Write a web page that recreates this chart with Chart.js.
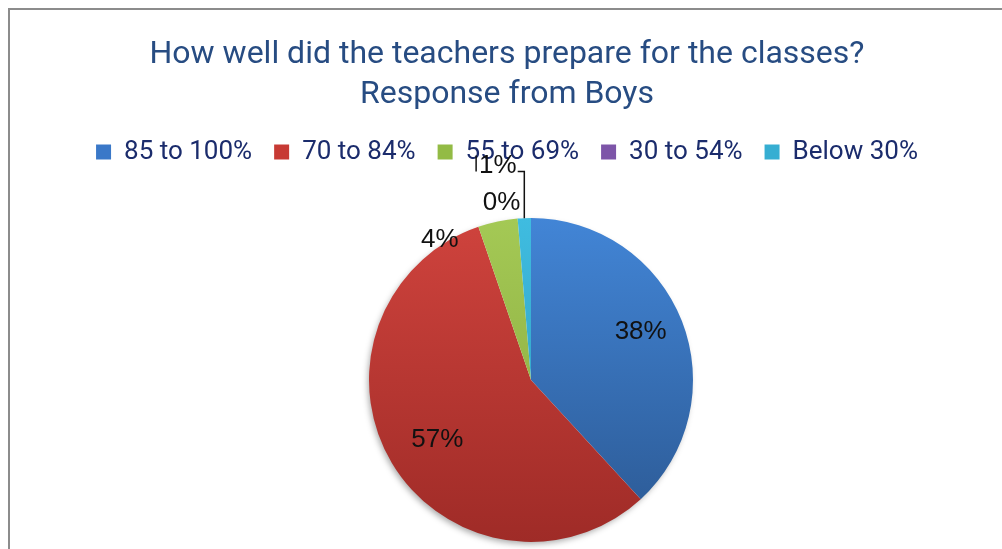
<!DOCTYPE html>
<html>
<head>
<meta charset="utf-8">
<title>Response from Boys</title>
<script src="https://cdn.jsdelivr.net/npm/chart.js@4.4.0/dist/chart.umd.min.js"></script>
<style>
html, body { margin: 0; padding: 0; background: #fff; overflow: hidden; }
#wrap { position: relative; width: 1002px; height: 549px; }
#frame { position: absolute; left: 8px; top: 8px; right: -10px; bottom: -10px;
         border-left: 2px solid #8c8c8c; border-top: 2px solid #8c8c8c; }
canvas { position: absolute; left: 0; top: 0; }
</style>
</head>
<body>
<div id="wrap">
  <div id="frame"></div>
  <canvas id="chartBoys" width="1002" height="549"></canvas>
</div>
<script>
// ── Datos ────────────────────────────────────────────────────────────────────
var categories   = ['85 to 100%', '70 to 84%', '55 to 69%', '30 to 54%', 'Below 30%'];
var responses    = [29, 43, 3, 0, 1];
var titleLines   = ['How well did the teachers prepare for the classes?', 'Response from Boys'];

var colorTop     = ['#4285d6', '#cf433d', '#a4c955', '#8a5fb4', '#3fbce0'];
var colorBottom  = ['#2b5892', '#9f2b27', '#86a53b', '#6b4a91', '#2b98b8'];
var legendColors = ['#3a78c8', '#c73a34', '#93bb45', '#7d55a8', '#36aed2'];

// posición de etiquetas: factor de radio y desplazamiento angular (grados)
var labelPlace = [
    { r: 0.74, da: -2.5 },
    { r: 0.685, da: -1.6 },
    { r: 1.03, da: -21.3 },
    { r: 1.11, da: -4.7 },
    { r: 1.34, da: -6.4 }
];
var pieShift = 24;

function sliceGradient(c) {
    var i = c.dataIndex;
    var area = c.chart.chartArea;
    if (!area) return colorTop[i];
    var g = c.chart.ctx.createLinearGradient(0, area.top, 0, area.bottom);
    g.addColorStop(0, colorTop[i]);
    g.addColorStop(1, colorBottom[i]);
    return g;
}

// ── Espacio debajo de la leyenda ─────────────────────────────────────────────
var legendGap = {
    id: 'legendGap',
    beforeInit: function (chart) {
        var fit = chart.legend.fit;
        chart.legend.fit = function () {
            fit.bind(chart.legend)();
            this.height += 43;
        };
    }
};

// ── Pastel desplazado, sombra y etiquetas ────────────────────────────────────
var piePlugin = {
    id: 'piePlugin',
    beforeDatasetsDraw: function (chart) {
        var ctx = chart.ctx;
        var arc = chart.getDatasetMeta(0).data[0];
        ctx.save();
        ctx.translate(pieShift, 0);
        ctx.save();
        ctx.shadowColor = 'rgba(0,0,0,0.35)';
        ctx.shadowBlur = 6;
        ctx.shadowOffsetX = -2;
        ctx.shadowOffsetY = 3;
        ctx.beginPath();
        ctx.arc(arc.x, arc.y, arc.outerRadius - 1, 0, Math.PI * 2);
        ctx.fillStyle = '#fff';
        ctx.fill();
        ctx.restore();
    },
    afterDatasetsDraw: function (chart) {
        var ctx = chart.ctx;
        var arcs = chart.getDatasetMeta(0).data;
        var total = responses.reduce(function (a, b) { return a + b; }, 0);
        ctx.font = '26px "Liberation Sans", Arial, sans-serif';
        ctx.fillStyle = '#111';
        ctx.strokeStyle = '#111';
        ctx.lineWidth = 1.5;
        ctx.textAlign = 'center';
        ctx.textBaseline = 'middle';
        arcs.forEach(function (a, i) {
            var p = labelPlace[i];
            var mid = (a.startAngle + a.endAngle) / 2;
            var ang = mid + p.da * Math.PI / 180;
            var x = a.x + Math.cos(ang) * a.outerRadius * p.r;
            var y = a.y + Math.sin(ang) * a.outerRadius * p.r;
            var txt = Math.round(responses[i] / total * 100) + '%';
            ctx.fillText(txt, x, y);
            if (p.r > 1.2) {
                // línea guía hasta el borde de la porción
                var w = ctx.measureText(txt).width;
                var ex = a.x + Math.cos(mid) * a.outerRadius;
                var ey = a.y + Math.sin(mid) * a.outerRadius;
                ctx.beginPath();
                ctx.moveTo(x + w / 2 + 1, y + 6);
                ctx.lineTo(ex, y + 6);
                ctx.lineTo(ex, ey);
                ctx.stroke();
                ctx.beginPath();
                ctx.moveTo(x - w / 2 - 3, y - 10);
                ctx.lineTo(x - w / 2 - 3, y + 6);
                ctx.stroke();
            }
        });
        ctx.restore();
    }
};

// ── Gráfica ──────────────────────────────────────────────────────────────────
var chartBoys = new Chart(document.getElementById('chartBoys'), {
    type: 'pie',
    data: {
        labels: categories,
        datasets: [{
            data: responses,
            backgroundColor: sliceGradient,
            borderWidth: 0
        }]
    },
    options: {
        responsive: false,
        animation: false,
        events: [],
        layout: { padding: { left: 12, right: 0, top: 0, bottom: 7 } },
        plugins: {
            tooltip: { enabled: false },
            title: {
                display: true,
                text: titleLines,
                color: '#274c82',
                font: { family: 'Roboto', size: 32, weight: 'normal', lineHeight: 1.25 },
                padding: { top: 35, bottom: 2 }
            },
            legend: {
                position: 'top',
                labels: {
                    boxWidth: 15,
                    boxHeight: 15,
                    padding: 22,
                    color: '#1b2c6c',
                    font: { family: 'Roboto', size: 26 },
                    generateLabels: function () {
                        return categories.map(function (c, i) {
                            return {
                                text: c, fillStyle: legendColors[i], strokeStyle: legendColors[i],
                                lineWidth: 0, hidden: false, index: i, fontColor: '#1b2c6c'
                            };
                        });
                    }
                }
            }
        }
    },
    plugins: [legendGap, piePlugin]
});
</script>
</body>
</html>
